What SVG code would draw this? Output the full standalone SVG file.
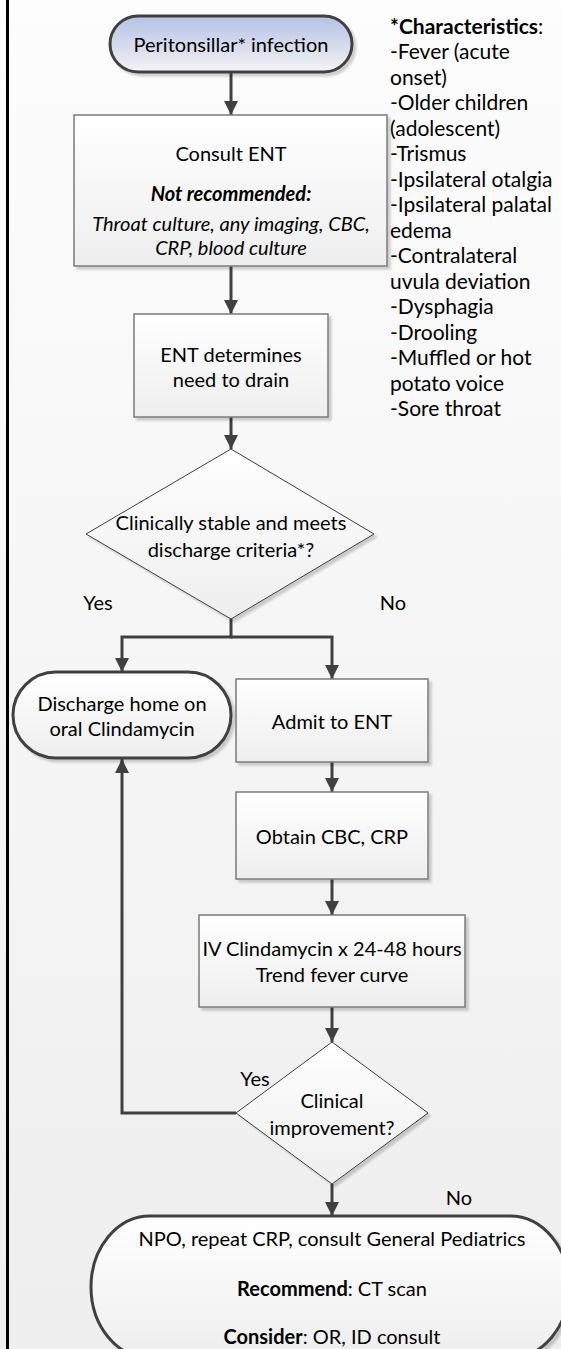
<svg xmlns="http://www.w3.org/2000/svg" width="561" height="1349" viewBox="0 0 561 1349">
<defs>
<linearGradient id="bg" x1="0" y1="0" x2="0" y2="1"><stop offset="0" stop-color="#fdfdfd"/><stop offset="1" stop-color="#eeeeee"/></linearGradient>
<linearGradient id="nodeFill" x1="0" y1="0" x2="0" y2="1"><stop offset="0" stop-color="#ffffff"/><stop offset="1" stop-color="#eeeeee"/></linearGradient>
<linearGradient id="startFill" x1="0" y1="0" x2="0" y2="1"><stop offset="0" stop-color="#b3c1e5"/><stop offset="1" stop-color="#f4f4f4"/></linearGradient>
<filter id="shadow" x="-10%" y="-10%" width="130%" height="130%"><feDropShadow dx="3" dy="3" stdDeviation="1.2" flood-color="#000" flood-opacity="0.18"/></filter>
<marker id="arrow" viewBox="0 0 14 14" refX="14" refY="7" markerWidth="14" markerHeight="14" markerUnits="userSpaceOnUse" orient="auto"><path d="M0,0 L14,7 L0,14 Z" fill="#404040"/></marker>
<style>
text{font-family:Lato,"Liberation Sans",sans-serif;font-size:20px;fill:#000;text-anchor:middle;dominant-baseline:central}
.box{fill:url(#nodeFill);stroke:#7a7a7a;stroke-width:1.5;filter:url(#shadow)}
.dia{fill:url(#nodeFill);stroke:#404040;stroke-width:1;filter:url(#shadow)}
.term{fill:url(#nodeFill);stroke:#404040;stroke-width:3;filter:url(#shadow)}
.conn{fill:none;stroke:#404040;stroke-width:3}
.left{text-anchor:start;font-size:21px}
.b{font-weight:bold}
.i{font-style:italic}
</style>
</defs>
<rect x="0" y="0" width="561" height="1349" fill="url(#bg)"/>
<rect x="6" y="0" width="3" height="1349" fill="#000"/>

<g id="connectors">
<path class="conn" d="M231,72 V115" marker-end="url(#arrow)"/>
<path class="conn" d="M231,266 V314" marker-end="url(#arrow)"/>
<path class="conn" d="M231,417 V449" marker-end="url(#arrow)"/>
<path class="conn" d="M231,619 V637 H122 V672" marker-end="url(#arrow)"/>
<path class="conn" d="M231,637 H332 V679" marker-end="url(#arrow)"/>
<path class="conn" d="M332,762 V792" marker-end="url(#arrow)"/>
<path class="conn" d="M332,879 V915" marker-end="url(#arrow)"/>
<path class="conn" d="M332,1007 V1042" marker-end="url(#arrow)"/>
<path class="conn" d="M236,1113 H122 V759" marker-end="url(#arrow)"/>
<path class="conn" d="M332,1184 V1216" marker-end="url(#arrow)"/>
<text x="98" y="602">Yes</text>
<text x="393" y="602">No</text>
<text x="255" y="1078">Yes</text>
<text x="459" y="1197">No</text>
</g>

<g id="start">
<rect x="110" y="16" width="242" height="56" rx="28" ry="28" fill="url(#startFill)" stroke="#404040" stroke-width="3" filter="url(#shadow)"/>
<text x="231" y="44">Peritonsillar* infection</text>
</g>

<g id="consult">
<rect class="box" x="74" y="115" width="313" height="151"/>
<text x="231" y="153">Consult ENT</text>
<text x="231" y="193" class="b i">Not recommended:</text>
<text x="231" y="223" class="i">Throat culture, any imaging, CBC,</text>
<text x="231" y="247" class="i">CRP, blood culture</text>
</g>

<g id="ent-drain">
<rect class="box" x="134" y="314" width="194" height="103"/>
<text x="231" y="354">ENT determines</text>
<text x="231" y="379">need to drain</text>
</g>

<g id="decision1">
<polygon class="dia" points="231,449 374,534 231,619 86,534"/>
<text x="231" y="522">Clinically stable and meets</text>
<text x="231" y="549">discharge criteria*?</text>
</g>

<g id="discharge">
<rect class="term" x="13" y="672" width="218" height="86" rx="43" ry="43"/>
<text x="122" y="703">Discharge home on</text>
<text x="122" y="728">oral Clindamycin</text>
</g>

<g id="admit">
<rect class="box" x="236" y="679" width="192" height="83"/>
<text x="332" y="721">Admit to ENT</text>
</g>

<g id="obtain">
<rect class="box" x="236" y="792" width="192" height="87"/>
<text x="332" y="836">Obtain CBC, CRP</text>
</g>

<g id="iv">
<rect class="box" x="199" y="915" width="266" height="92"/>
<text x="332" y="948">IV Clindamycin x 24-48 hours</text>
<text x="332" y="974">Trend fever curve</text>
</g>

<g id="decision2">
<polygon class="dia" points="332,1042 428,1113 332,1184 236,1113"/>
<text x="332" y="1100">Clinical</text>
<text x="332" y="1127">improvement?</text>
</g>

<g id="escalate">
<rect class="term" x="91" y="1216" width="478" height="142" rx="59" ry="71"/>
<text x="332" y="1238">NPO, repeat CRP, consult General Pediatrics</text>
<text x="332" y="1288"><tspan class="b">Recommend</tspan>: CT scan</text>
<text x="332" y="1336"><tspan class="b">Consider</tspan>: OR, ID consult</text>
</g>

<g id="characteristics">
<text class="left b" x="390" y="25">*Characteristics<tspan font-weight="normal">:</tspan></text>
<text class="left" x="390" y="50">-Fever (acute</text>
<text class="left" x="390" y="76">onset)</text>
<text class="left" x="390" y="101">-Older children</text>
<text class="left" x="390" y="127">(adolescent)</text>
<text class="left" x="390" y="152">-Trismus</text>
<text class="left" x="390" y="178">-Ipsilateral otalgia</text>
<text class="left" x="390" y="203">-Ipsilateral palatal</text>
<text class="left" x="390" y="229">edema</text>
<text class="left" x="390" y="254">-Contralateral</text>
<text class="left" x="390" y="280">uvula deviation</text>
<text class="left" x="390" y="305">-Dysphagia</text>
<text class="left" x="390" y="331">-Drooling</text>
<text class="left" x="390" y="356">-Muffled or hot</text>
<text class="left" x="390" y="382">potato voice</text>
<text class="left" x="390" y="407">-Sore throat</text>
</g>
</svg>
